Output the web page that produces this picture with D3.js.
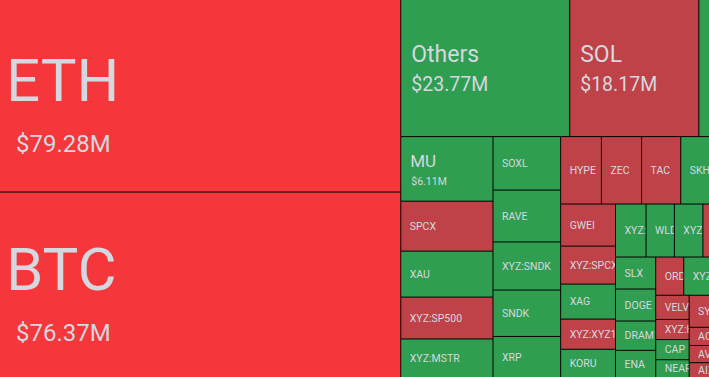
<!DOCTYPE html>
<html>
<head>
<meta charset="utf-8">
<script src="https://cdn.jsdelivr.net/npm/d3@7"></script>
<style>
  html, body { margin: 0; padding: 0; background: #000; }
  svg { display: block; }
  text { font-family: Roboto, "Noto Sans", sans-serif; fill: #d5d8df; }
</style>
</head>
<body>
<svg id="chart" width="709" height="377"></svg>
<script>
// volumes in $M, in the order the blocks are laid out
const names = [
  'ETH', 'BTC',
  'Others', 'SOL', 'ASTER',
  'MU', 'SPCX', 'XAU', 'XYZ:SP500', 'XYZ:MSTR',
  'SOXL', 'RAVE', 'XYZ:SNDK', 'SNDK', 'XRP',
  'HYPE', 'ZEC', 'TAC', 'SKHX',
  'GWEI', 'XYZ:SPCX', 'XAG', 'XYZ:XYZ100', 'KORU',
  'XYZ:NVDA', 'WLD', 'XYZ:TSLA', 'PUMP',
  'SLX', 'DOGE', 'DRAM', 'ENA',
  'ORDI', 'XYZ:GOLD',
  'VELVET', 'XYZ:HOOD', 'CAP', 'NEAR',
  'SYRUP', 'ACE', 'AVAX', 'AIXBT'
];
const values = [
  79.28, 76.37,
  23.77, 18.17, 1.50,
  6.11, 4.73, 4.35, 3.96, 3.65,
  3.71, 3.60, 3.34, 3.22, 2.85,
  2.82, 2.78, 2.71, 1.99,
  2.37, 2.14, 1.97, 1.70, 1.59,
  1.66, 1.54, 1.55, 0.36,
  1.32, 1.32, 1.21, 1.12,
  1.10, 1.01,
  0.83, 0.69, 0.69, 0.61,
  0.67, 0.38, 0.36, 0.31
];
const trend = [
  'down2', 'down2',
  'up', 'down', 'up',
  'up', 'down', 'up', 'down', 'up',
  'up', 'up', 'up', 'up', 'up',
  'down', 'down', 'down', 'up',
  'down', 'down', 'up', 'down', 'up',
  'up', 'up', 'up', 'down',
  'up', 'up', 'up', 'up',
  'down', 'up',
  'down', 'down', 'up', 'up',
  'down', 'down', 'down', 'down'
];
// how many blocks go in each strip, and whether the strip is a column or a row
const strips = [
  [2, 'col'], [3, 'row'], [5, 'col'], [5, 'col'], [4, 'row'], [5, 'col'],
  [4, 'row'], [4, 'col'], [2, 'row'], [4, 'col'], [4, 'col']
];

const width = 709, height = 377;
const svg = d3.select('#chart');

const color = d3.scaleOrdinal()
  .domain(['down2', 'down', 'up'])
  .range(['#f5363b', '#bf4248', '#2f9e51']);

// label sizes by block size
const tiers = [
  {min: 50, fs: 60, tx: 6, ty: 5, vfs: 24, vx: 16, vy: 56},
  {min: 15, fs: 23, tx: 10, ty: -6, vfs: 19.5, vx: 10, vy: 23},
  {min: 5, fs: 17, tx: 9, ty: -2, vfs: 10.5, vx: 10, vy: 16},
  {min: 0, fs: 10.5, tx: 8.5, ty: 3.7, vfs: 0}
];
const tierOf = v => tiers.find(t => v > t.min);

function stripTile(parent, x0, y0, x1, y1) {
  const nodes = parent.children;
  let remaining = parent.value, i = 0;
  strips.forEach(([count, dir]) => {
    const row = {children: nodes.slice(i, i + count)};
    row.value = d3.sum(row.children, d => d.value);
    if (dir === 'col') {
      const xm = x0 + (x1 - x0) * row.value / remaining;
      d3.treemapSlice(row, x0, y0, xm, y1);
      x0 = xm;
    } else {
      const ym = y0 + (y1 - y0) * row.value / remaining;
      d3.treemapDice(row, x0, y0, x1, ym);
      y0 = ym;
    }
    remaining -= row.value;
    i += count;
  });
}

const data = names.map((n, i) => ({name: n, value: values[i], trend: trend[i]}));
const root = d3.hierarchy({children: data}).sum(d => d.value || 0);

d3.treemap()
  .size([width, height])
  .paddingInner(1)
  .tile(stripTile)(root);

const leaves = svg.selectAll('g.cell')
  .data(root.leaves())
  .join('g')
  .attr('class', 'cell')
  .attr('transform', d => `translate(${d.x0},${d.y0})`);

leaves.append('clipPath')
  .attr('id', (d, i) => 'clip' + i)
  .append('rect')
  .attr('width', d => d.x1 - d.x0)
  .attr('height', d => d.y1 - d.y0);

leaves.append('rect')
  .attr('width', d => d.x1 - d.x0)
  .attr('height', d => d.y1 - d.y0)
  .attr('fill', d => color(d.data.trend));

// slivers too thin to show any of their name get no label
const labels = leaves.filter(d => d.x1 - d.x0 > 16)
  .append('g')
  .attr('clip-path', d => `url(#clip${root.leaves().indexOf(d)})`);

labels.append('text')
  .attr('x', d => tierOf(d.value).tx)
  .attr('y', d => (d.y1 - d.y0) / 2 + tierOf(d.value).ty)
  .attr('font-size', d => tierOf(d.value).fs)
  .text(d => d.data.name);

labels.filter(d => tierOf(d.value).vfs > 0)
  .append('text')
  .attr('x', d => tierOf(d.value).vx)
  .attr('y', d => (d.y1 - d.y0) / 2 + tierOf(d.value).vy)
  .attr('font-size', d => tierOf(d.value).vfs)
  .text(d => '$' + d3.format('.2f')(d.value) + 'M');
</script>
</body>
</html>
